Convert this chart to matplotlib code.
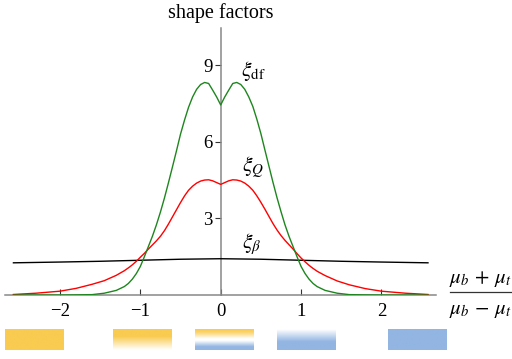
import numpy as np
import matplotlib
matplotlib.use("Agg")
import matplotlib.pyplot as plt
from matplotlib.lines import Line2D

plt.rcParams['font.family'] = ['Liberation Serif', 'DejaVu Serif']
plt.rcParams['mathtext.fontset'] = 'stix'

# ---- data ----
x_vals = [-2.58, -2.3, -2.0, -1.8, -1.6, -1.45, -1.3, -1.2, -1.15, -1.1, -1.05, -1.0,
          -0.95, -0.9, -0.85, -0.8, -0.75, -0.7, -0.65, -0.6, -0.55, -0.5, -0.45,
          -0.4, -0.35, -0.3, -0.25, -0.2, -0.15, -0.1, -0.05, 0.0,
          0.05, 0.1, 0.15, 0.2, 0.25, 0.3, 0.35, 0.4, 0.45, 0.5, 0.55, 0.6,
          0.65, 0.7, 0.75, 0.8, 0.85, 0.9, 0.95, 1.0, 1.05, 1.1, 1.15, 1.2,
          1.3, 1.45, 1.6, 1.8, 2.0, 2.3, 2.58]

xi_df = [0.0, 0.0, 0.0, 0.005, 0.015, 0.07, 0.18, 0.33, 0.45, 0.62, 0.84, 1.12,
         1.5, 1.9, 2.3, 2.75, 3.25, 3.8, 4.4, 5.02, 5.65, 6.3, 6.85,
         7.35, 7.75, 8.05, 8.24, 8.32, 8.28, 8.02, 7.75, 7.44,
         7.75, 8.02, 8.28, 8.32, 8.24, 8.05, 7.75, 7.38, 6.88, 6.32, 5.68, 5.05,
         4.42, 3.82, 3.27, 2.75, 2.3, 1.9, 1.5, 1.12, 0.84, 0.62, 0.45, 0.33,
         0.18, 0.07, 0.015, 0.005, 0.0, 0.0, 0.0]

xi_Q = [0.02, 0.07, 0.15, 0.26, 0.42, 0.56, 0.77, 0.95, 1.06, 1.18, 1.32, 1.48,
        1.63, 1.8, 1.96, 2.12, 2.3, 2.52, 2.78, 3.06, 3.34, 3.62, 3.88,
        4.1, 4.26, 4.38, 4.46, 4.5, 4.51, 4.47, 4.4, 4.33,
        4.4, 4.47, 4.51, 4.5, 4.46, 4.38, 4.26, 4.1, 3.88, 3.63, 3.36, 3.08,
        2.8, 2.55, 2.33, 2.14, 1.97, 1.8, 1.62, 1.45, 1.3, 1.16, 1.04, 0.93,
        0.76, 0.55, 0.4, 0.25, 0.15, 0.07, 0.02]

x_beta = [-2.58, -2.0, -1.5, -1.0, -0.5, 0.0, 0.5, 1.0, 1.5, 2.0, 2.58]
xi_beta = [1.26, 1.29, 1.32, 1.36, 1.40, 1.42, 1.40, 1.36, 1.32, 1.29, 1.26]

x_ticks = [-2, -1, 0, 1, 2]
x_tick_labels = ['\u22122', '\u22121', '0', '1', '2']
y_ticks = [3, 6, 9]
y_tick_labels = ['3', '6', '9']

W, H = 512, 359
fig = plt.figure(figsize=(W / 100, H / 100), dpi=100)

x0, x1 = 5, 436          # pixel extent of x-axis
y0, y1 = 295, 28.3       # pixel of y=0 and top of y-axis
ax = fig.add_axes([x0 / W, (H - y0) / H, (x1 - x0) / W, (y0 - y1) / H])
ax.set_xlim(-2.685, 2.68)
ax.set_ylim(0, 10.44)
ax.patch.set_alpha(0)

axis_col = '#888888'
for s in ['top', 'right']:
    ax.spines[s].set_visible(False)
ax.spines['left'].set_position(('data', 0))
ax.spines['bottom'].set_position(('data', 0))
for s in ['left', 'bottom']:
    ax.spines[s].set_color(axis_col)
    ax.spines[s].set_linewidth(1.1)

ax.plot(x_beta, xi_beta, color='black', lw=1.0, zorder=3)
ax.plot(x_vals, xi_Q, color='#ff0000', lw=1.0, zorder=3)
ax.plot(x_vals, xi_df, color='#1e861e', lw=1.0, zorder=3)

ax.set_xticks(x_ticks)
ax.set_xticklabels(x_tick_labels)
ax.set_yticks(y_ticks)
ax.set_yticklabels(y_tick_labels)
ax.tick_params(axis='x', direction='in', length=4, width=0.8, color='#333333',
               labelsize=13.5, pad=6)
ax.tick_params(axis='y', direction='out', length=4, width=0.8, color='#333333',
               labelsize=13.5, pad=2)

# curve labels
ax.text(0.25, 8.75, r'$\xi_{\mathrm{df}}$', fontsize=15.5, ha='left', va='center')
ax.text(0.27, 4.98, r'$\xi_{Q}$', fontsize=15.5, ha='left', va='center')
ax.text(0.27, 2.0, r'$\xi_{\beta}$', fontsize=15.5, ha='left', va='center')

# axis titles
fig.text(221 / W, 1 - 18 / H, 'shape factors', fontsize=14.5, ha='center', va='baseline')
fx = 480 / W
fig.text(fx, 1 - 289 / H, r'$\mu_b\,+\,\mu_t$', fontsize=15, ha='center', va='bottom')
fig.text(fx, 1 - 301 / H, r'$\mu_b\,-\,\mu_t$', fontsize=15, ha='center', va='top')
fig.add_artist(Line2D([450 / W, 511 / W], [1 - 292 / H, 1 - 292 / H],
                      color='#333333', lw=0.9, transform=fig.transFigure))

# colored swatches below the axis
yellow = np.array([249, 203, 80]) / 255.0
blue = np.array([146, 181, 226]) / 255.0
white = np.array([1.0, 1.0, 1.0])
n = 40
t = np.linspace(0, 1, n)[:, None]

def blend(c1, c2, w):
    return c1[None, :] * (1 - w) + c2[None, :] * w

sw1 = blend(yellow, yellow, np.zeros((n, 1)))
w2 = np.clip((t - 0.35) / 0.65, 0, 1)
sw2 = blend(yellow, white, w2)
sw3 = np.where(t < 0.5, blend(yellow, white, np.clip(t / 0.45, 0, 1) ** 1.5),
               blend(white, blue, np.clip((t - 0.55) / 0.3, 0, 1)))
w4 = np.clip(t / 0.6, 0, 1)
sw4 = blend(white, blue, w4)
sw5 = blend(blue, blue, np.zeros((n, 1)))

swatches = [(5, 64, sw1), (112.7, 171.3, sw2), (195, 253.3, sw3),
            (276.7, 335.3, sw4), (388.3, 447, sw5)]
for xa, xb, img in swatches:
    sax = fig.add_axes([xa / W, (H - 350) / H, (xb - xa) / W, 20.7 / H])
    sax.imshow(img[:, None, :].repeat(4, axis=1), aspect='auto', interpolation='bilinear')
    sax.axis('off')

fig.savefig('out.png', dpi=100)
